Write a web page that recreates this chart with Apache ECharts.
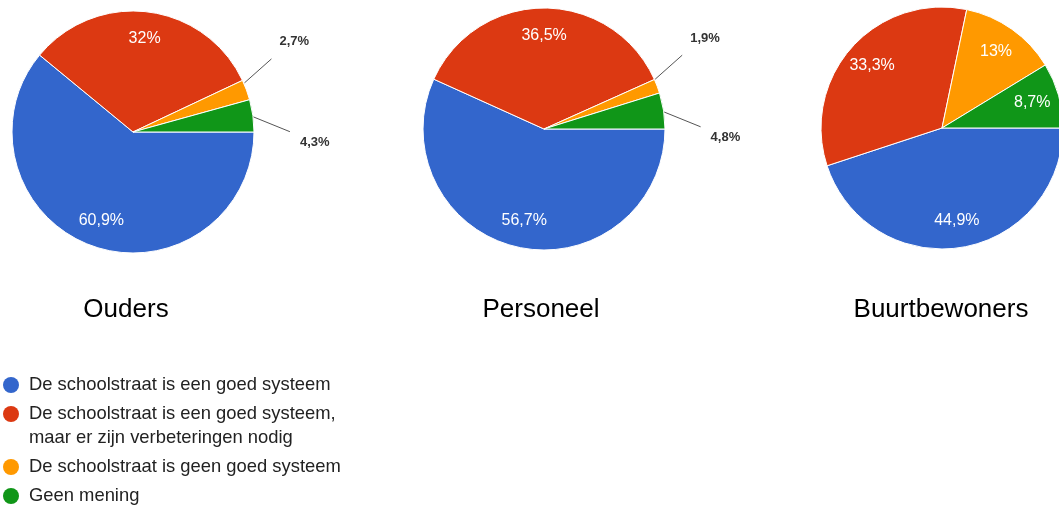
<!DOCTYPE html>
<html>
<head>
<meta charset="utf-8">
<script src="https://cdn.jsdelivr.net/npm/echarts@6/dist/echarts.min.js"></script>
<style>
  html, body { margin: 0; padding: 0; background: #fff; }
  #chart { width: 1059px; height: 509px; }
</style>
</head>
<body>
<div id="chart"></div>
<script>
// Survey groups (one pie each) and the answer categories
const groups = ['Ouders', 'Personeel', 'Buurtbewoners'];
const answers = [
  'De schoolstraat is een goed systeem',
  'De schoolstraat is een goed systeem, maar er zijn verbeteringen nodig',
  'De schoolstraat is geen goed systeem',
  'Geen mening'
];

// Share of each answer per group, in percent
const ouders = [60.9, 32, 2.7, 4.3];
const personeel = [56.7, 36.5, 1.9, 4.8];
const buurtbewoners = [44.9, 33.3, 13, 8.7];

const colors = ['#3366cc', '#dc3912', '#ff9900', '#109618'];
const FONT = 'Arial, "Liberation Sans", Helvetica, sans-serif';

const groupValues = [ouders, personeel, buurtbewoners];
const pieCenters = [[133, 132], [544, 129], [942, 128]];
const titleX = [126, 541, 941];
const RADIUS = 121;
const OUTSIDE_BELOW = 5; // slices smaller than this get an outside label

// Leader line shape for small slices: start nudge, line delta, text offset from the line end
const leaders = {
  2: { start: [-2, -7], line: [27, -24], text: [8, -17] },
  3: { start: [0, 1], line: [37, 15], text: [10, 11] }
};

function pct(v) {
  return String(v).replace('.', ',') + '%';
}

function makeLabelLayout(vals) {
  return function (params) {
    const i = params.dataIndex;
    const pts = params.labelLinePoints;
    const ld = leaders[i];
    if (vals[i] >= OUTSIDE_BELOW || !pts || !ld) return {};
    const p0 = [pts[0][0] + ld.start[0], pts[0][1] + ld.start[1]];
    const p1 = [p0[0] + ld.line[0], p0[1] + ld.line[1]];
    return {
      x: p1[0] + ld.text[0],
      y: p1[1] + ld.text[1],
      align: 'left',
      verticalAlign: 'middle',
      labelLinePoints: [p0, p1, p1]
    };
  };
}

const series = [];
groupValues.forEach(function (vals, g) {
  // Visible pie with outside labels for the small slices
  series.push({
    name: groups[g],
    type: 'pie',
    center: pieCenters[g],
    radius: RADIUS,
    startAngle: 0,
    clockwise: true,
    avoidLabelOverlap: false,
    emphasis: { disabled: true },
    itemStyle: { borderColor: '#fff', borderWidth: 1 },
    label: {
      position: 'outside',
      formatter: function (p) { return pct(p.value); },
      fontFamily: FONT,
      fontSize: 13,
      fontWeight: 'bold',
      color: '#333'
    },
    labelLine: { length: 20, length2: 0, lineStyle: { color: '#555', width: 1 } },
    labelLayout: makeLabelLayout(vals),
    data: vals.map(function (v, i) {
      const small = v < OUTSIDE_BELOW;
      return {
        name: answers[i],
        value: v,
        itemStyle: { color: colors[i] },
        label: { show: small },
        labelLine: { show: small }
      };
    })
  });
  // Transparent ring on top carrying the inside labels at three quarters of the radius
  series.push({
    name: groups[g] + ' labels',
    type: 'pie',
    center: pieCenters[g],
    radius: [RADIUS / 2, RADIUS],
    startAngle: 0,
    clockwise: true,
    silent: true,
    avoidLabelOverlap: false,
    emphasis: { disabled: true },
    itemStyle: { color: 'rgba(0,0,0,0)', borderWidth: 0 },
    label: {
      position: 'inside',
      formatter: function (p) { return pct(p.value); },
      fontFamily: FONT,
      fontSize: 16,
      color: '#fff',
      textBorderWidth: 0
    },
    labelLine: { show: false },
    data: vals.map(function (v, i) {
      return {
        name: answers[i],
        value: v,
        label: { show: v >= OUTSIDE_BELOW }
      };
    })
  });
});

// Legend: coloured dots drawn as rich-text tokens so wrapped lines stay aligned
const rich = {
  t: { fontFamily: FONT, fontSize: 18.4, color: '#222', lineHeight: 24, height: 24, padding: [0, 0, 0, 10] },
  s: { width: 16, height: 16 }
};
colors.forEach(function (c, i) {
  rich['d' + i] = { width: 16, height: 16, borderRadius: 8, backgroundColor: c };
});

const option = {
  animation: false,
  backgroundColor: '#fff',
  title: groups.map(function (g, i) {
    return {
      text: g,
      left: titleX[i],
      top: 310,
      padding: 0,
      textAlign: 'center',
      textVerticalAlign: 'middle',
      textStyle: { fontFamily: FONT, fontSize: 26, fontWeight: 'normal', color: '#000' }
    };
  }),
  legend: {
    orient: 'vertical',
    left: -3,
    top: 373,
    padding: 0,
    itemGap: 5,
    itemWidth: 0,
    itemHeight: 0,
    icon: 'circle',
    data: answers,
    formatter: function (name) {
      const i = answers.indexOf(name);
      const cut = name.indexOf(', ');
      if (cut < 0) return '{d' + i + '|}{t|' + name + '}';
      return '{d' + i + '|}{t|' + name.slice(0, cut + 1) + '}\n{s|}{t|' + name.slice(cut + 2) + '}';
    },
    textStyle: { lineHeight: 24, rich: rich }
  },
  series: series
};

const chart = echarts.init(document.getElementById('chart'), null, { renderer: 'canvas' });
chart.setOption(option);
</script>
</body>
</html>
